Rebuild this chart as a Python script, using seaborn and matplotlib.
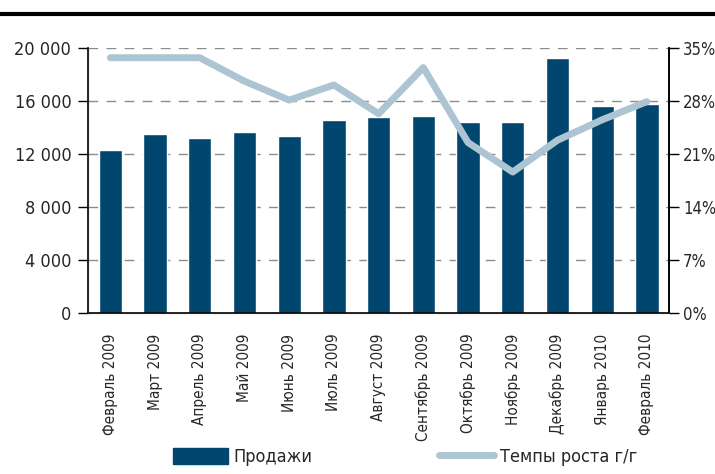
import numpy as np
import pandas as pd
import matplotlib
matplotlib.use("Agg")
import matplotlib.pyplot as plt
import seaborn as sns
from matplotlib.lines import Line2D
from matplotlib.patches import Patch

# ========================
# DATA
# ========================
months = ["Февраль 2009", "Март 2009", "Апрель 2009", "Май 2009", "Июнь 2009",
          "Июль 2009", "Август 2009", "Сентябрь 2009", "Октябрь 2009",
          "Ноябрь 2009", "Декабрь 2009", "Январь 2010", "Февраль 2010"]
sales = [12300, 13500, 13200, 13650, 13350, 14550, 14800, 14850, 14400,
         14400, 19250, 15600, 15800]
growth = [33.7, 33.7, 33.7, 30.6, 28.1, 30.1, 26.3, 32.4, 22.5, 18.6, 22.8, 25.5, 27.9]

left_ticks = [0, 4000, 8000, 12000, 16000, 20000]
right_ticks = [0, 7, 14, 21, 28, 35]

BAR_COLOR = "#00466e"
LINE_COLOR = "#adc5d3"

df = pd.DataFrame({"month": months, "sales": sales, "growth": growth})
df["pos"] = np.arange(len(df))

# ========================
# PLOT
# ========================
sns.set_style("white")
plt.rcParams["font.family"] = ["DejaVu Sans"]
plt.rcParams["font.stretch"] = "condensed"

fig = plt.figure(figsize=(7.15, 4.74), dpi=100)
ax = fig.add_axes([0.123, 0.34, 0.813, 0.559])

sns.barplot(data=df, x="month", y="sales", color=BAR_COLOR, width=0.52,
            saturation=1, ax=ax, zorder=2)
ax.set_ylim(0, 20000)
ax.set_xlim(-0.5, len(df) - 0.5)
ax.set_yticks(left_ticks)
ax.set_yticklabels([f"{v:,}".replace(",", " ") for v in left_ticks], fontsize=13)
ax.set_xticks(df["pos"])
ax.set_xticklabels(months, rotation=90, fontsize=11)
ax.set_xlabel("")
ax.set_ylabel("")
for y in left_ticks[1:]:
    ax.axhline(y, color="#8c8c8c", lw=1, ls=(0, (7, 6)), zorder=0)
ax.tick_params(axis="y", direction="out", length=7, width=1, color="black", pad=5)
ax.tick_params(axis="x", length=0, pad=15)
ax.spines["top"].set_visible(False)
for s in ["left", "right", "bottom"]:
    ax.spines[s].set_color("black")
    ax.spines[s].set_linewidth(1.2)

ax2 = ax.twinx()
sns.lineplot(data=df, x="pos", y="growth", color=LINE_COLOR, lw=5,
             solid_capstyle="round", ax=ax2)
ax2.set_ylim(0, 35)
ax2.set_yticks(right_ticks)
ax2.set_yticklabels([f"{v}%" for v in right_ticks], fontsize=12)
ax2.set_ylabel("")
ax2.tick_params(axis="y", direction="out", length=7, width=1, color="black", pad=3)
ax2.spines["top"].set_visible(False)
ax2.spines["right"].set_color("black")
ax2.spines["right"].set_linewidth(1.2)
ax2.set_xlim(-0.5, len(df) - 0.5)

# top rule
fig.add_artist(Line2D([0, 1], [0.971, 0.971], color="black", lw=3,
                      transform=fig.transFigure))

handles = [Patch(color=BAR_COLOR, label="Продажи"),
           Line2D([0], [0], color=LINE_COLOR, lw=5, label="Темпы роста г/г")]
fig.legend(handles=handles, loc="center", bbox_to_anchor=(0.5665, 0.036), ncol=2,
           frameon=False, fontsize=13, handlelength=3.05, handleheight=1.0,
           columnspacing=7.0, handletextpad=0.3)

fig.savefig("out.png", dpi=100)
